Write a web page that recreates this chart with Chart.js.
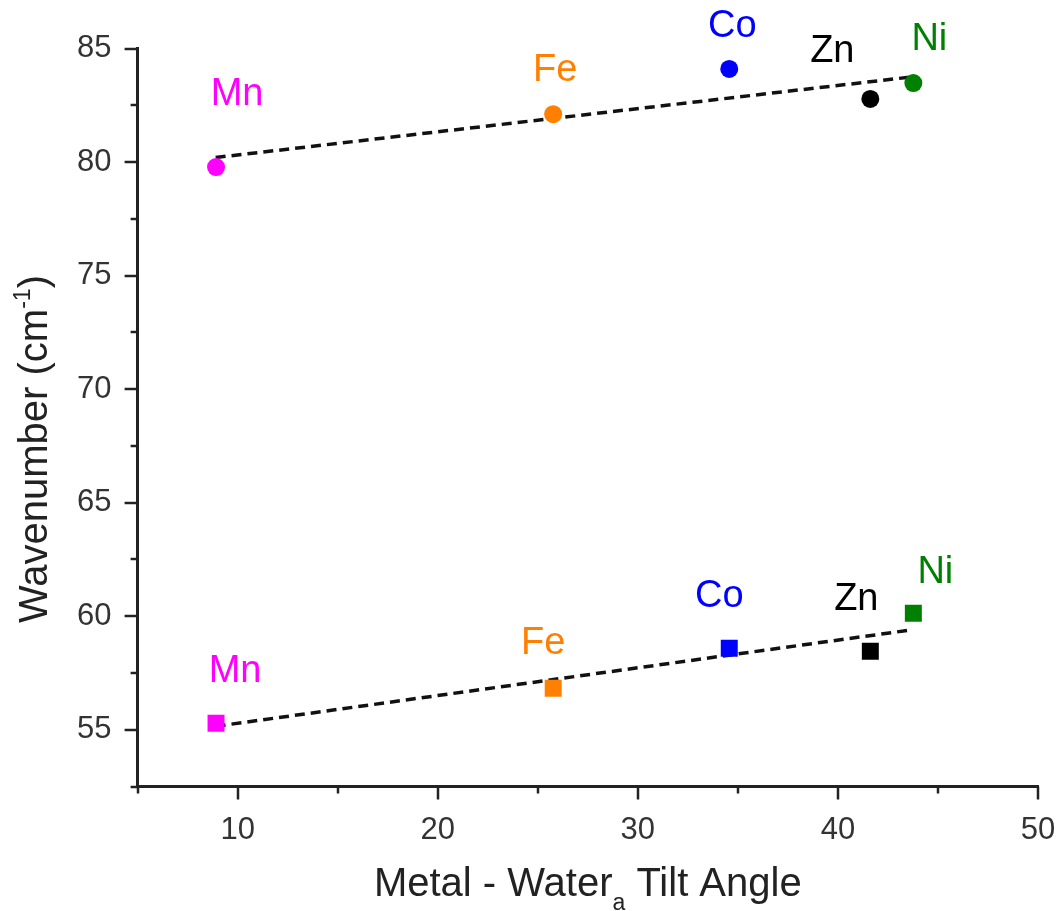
<!DOCTYPE html>
<html>
<head>
<meta charset="utf-8">
<script src="https://cdn.jsdelivr.net/npm/chart.js@4/dist/chart.umd.min.js"></script>
<style>
  html, body { margin: 0; padding: 0; background: #ffffff; }
  #wrap { width: 1061px; height: 911px; }
</style>
</head>
<body>
<div id="wrap"><canvas id="c" width="1061" height="911"></canvas></div>
<script>
// ---- data ----
const metals = ['Mn', 'Fe', 'Co', 'Zn', 'Ni'];
const tiltAngle = [8.92, 25.77, 34.57, 41.62, 43.77];
const upperWavenumber = [79.78, 82.11, 84.10, 82.78, 83.48];
const lowerWavenumber = [55.29, 56.83, 58.59, 58.46, 60.13];
const upperFitX = [8.9, 43.7];
const upperFitY = [80.2, 83.75];
const lowerFitX = [8.9, 43.7];
const lowerFitY = [55.15, 59.4];
const xTickValues = [10, 20, 30, 40, 50];
const yTickValues = [55, 60, 65, 70, 75, 80, 85];
const xTitleMain = 'Metal - Water';
const xTitleSub = 'a';
const xTitleEnd = ' Tilt Angle';
const yTitleMain = 'Wavenumber (cm';
const yTitleSup = '-1';
const yTitleEnd = ')';

// ---- styles ----
const FONT = '"Liberation Sans", Arial, Helvetica, sans-serif';
const metalColors = { Mn: '#ff00ff', Fe: '#ff8000', Co: '#0000ff', Zn: '#000000', Ni: '#008000' };
const pointColors = metals.map(m => metalColors[m]);
// label offsets in pixels relative to each marker (upper row, lower row)
const upperLabelOffsets = [[21, -73], [2, -44], [3, -42], [-38, -47], [16, -44]];
const lowerLabelOffsets = [[19, -52], [-10, -45], [-10, -52], [-14, -52], [22, -41]];
const AXIS_COLOR = '#222222';

const toPts = (xs, ys) => xs.map((x, i) => ({ x: x, y: ys[i] }));

const tickPlugin = {
  id: 'customTicks',
  afterDraw(chart) {
    const ctx = chart.ctx;
    const xs = chart.scales.x, ys = chart.scales.y;
    const area = chart.chartArea;
    ctx.save();
    ctx.strokeStyle = AXIS_COLOR;
    ctx.lineWidth = 2.5;
    ctx.lineCap = 'butt';
    for (let v = xs.min; v <= xs.max + 1e-9; v += 5) {
      const major = xTickValues.includes(Math.round(v * 10) / 10);
      const px = Math.round(xs.getPixelForValue(v));
      ctx.beginPath();
      ctx.moveTo(px, area.bottom);
      ctx.lineTo(px, area.bottom + (major ? 13 : 7));
      ctx.stroke();
    }
    for (let v = ys.min; v <= ys.max + 1e-9; v += 2.5) {
      const major = yTickValues.includes(Math.round(v * 10) / 10);
      const py = Math.round(ys.getPixelForValue(v));
      ctx.beginPath();
      ctx.moveTo(area.left, py);
      ctx.lineTo(area.left - (major ? 13 : 7), py);
      ctx.stroke();
    }
    ctx.restore();
  }
};

const labelPlugin = {
  id: 'pointLabels',
  afterDatasetsDraw(chart) {
    const ctx = chart.ctx;
    const xs = chart.scales.x, ys = chart.scales.y;
    ctx.save();
    ctx.font = '38px ' + FONT;
    ctx.textAlign = 'center';
    ctx.textBaseline = 'middle';
    const rows = [[upperWavenumber, upperLabelOffsets], [lowerWavenumber, lowerLabelOffsets]];
    rows.forEach(([vals, offs]) => {
      metals.forEach((m, i) => {
        const px = xs.getPixelForValue(tiltAngle[i]);
        const py = ys.getPixelForValue(vals[i]);
        ctx.fillStyle = metalColors[m];
        ctx.fillText(m, px + offs[i][0], py + offs[i][1]);
      });
    });
    ctx.restore();
  }
};

const titlePlugin = {
  id: 'axisTitles',
  afterDraw(chart) {
    const ctx = chart.ctx;
    const area = chart.chartArea;
    ctx.save();
    ctx.fillStyle = '#222222';
    ctx.textBaseline = 'alphabetic';
    ctx.textAlign = 'left';
    const bigFont = '40px ' + FONT;
    const smallFont = '23px ' + FONT;
    // x title
    ctx.font = bigFont;
    const w1 = ctx.measureText(xTitleMain).width;
    const w3 = ctx.measureText(xTitleEnd).width;
    ctx.font = smallFont;
    const w2 = ctx.measureText(xTitleSub).width;
    const total = w1 + w2 + w3;
    const x0 = (area.left + area.right) / 2 - total / 2;
    const base = 896;
    ctx.font = bigFont;
    ctx.fillText(xTitleMain, x0, base);
    ctx.font = smallFont;
    ctx.fillText(xTitleSub, x0 + w1, base + 14);
    ctx.font = bigFont;
    ctx.fillText(xTitleEnd, x0 + w1 + w2, base);

    // y title (rotated)
    ctx.font = bigFont;
    const v1 = ctx.measureText(yTitleMain).width;
    const v3 = ctx.measureText(yTitleEnd).width;
    ctx.font = smallFont;
    const v2 = ctx.measureText(yTitleSup).width;
    const vt = v1 + v2 + v3;
    const cy = 449;
    ctx.translate(47, cy);
    ctx.rotate(-Math.PI / 2);
    const s = -vt / 2;
    ctx.font = bigFont;
    ctx.fillText(yTitleMain, s, 0);
    ctx.font = smallFont;
    ctx.fillText(yTitleSup, s + v1, -17);
    ctx.font = bigFont;
    ctx.fillText(yTitleEnd, s + v1 + v2, 0);
    ctx.restore();
  }
};

new Chart(document.getElementById('c'), {
  type: 'scatter',
  data: {
    datasets: [
      {
        label: 'upper',
        data: toPts(tiltAngle, upperWavenumber),
        pointStyle: 'circle',
        pointRadius: 9,
        pointHoverRadius: 9,
        pointBackgroundColor: pointColors,
        pointBorderColor: pointColors,
        pointBorderWidth: 0,
        showLine: false
      },
      {
        label: 'lower',
        data: toPts(tiltAngle, lowerWavenumber),
        pointStyle: 'rect',
        pointRadius: 12,
        pointHoverRadius: 12,
        pointBackgroundColor: pointColors,
        pointBorderColor: pointColors,
        pointBorderWidth: 0,
        showLine: false
      },
      {
        label: 'upper fit',
        type: 'line',
        data: toPts(upperFitX, upperFitY),
        borderColor: '#111111',
        borderWidth: 3.5,
        borderDash: [10, 6],
        pointRadius: 0,
        fill: false,
        tension: 0
      },
      {
        label: 'lower fit',
        type: 'line',
        data: toPts(lowerFitX, lowerFitY),
        borderColor: '#111111',
        borderWidth: 3.5,
        borderDash: [10, 6],
        pointRadius: 0,
        fill: false,
        tension: 0
      }
    ]
  },
  options: {
    responsive: false,
    animation: false,
    devicePixelRatio: 1,
    layout: { padding: { top: 48.5, right: 23, left: 0, bottom: 0 } },
    plugins: {
      legend: { display: false },
      tooltip: { enabled: false },
      title: { display: false }
    },
    scales: {
      x: {
        type: 'linear',
        min: 5,
        max: 50,
        afterBuildTicks: (scale) => { scale.ticks = xTickValues.map(v => ({ value: v })); },
        afterFit: (scale) => {
          scale.height = 911 - 786.5;
          scale.paddingLeft = 0;
          scale.paddingRight = 0;
        },
        ticks: {
          font: { family: FONT, size: 31 },
          color: '#333333',
          padding: 12,
          maxRotation: 0
        },
        grid: { drawOnChartArea: false, color: 'rgba(0,0,0,0)', tickLength: 13 },
        border: { display: true, color: AXIS_COLOR, width: 3 },
        title: { display: false }
      },
      y: {
        type: 'linear',
        min: 52.5,
        max: 85,
        afterBuildTicks: (scale) => { scale.ticks = yTickValues.map(v => ({ value: v })); },
        afterFit: (scale) => {
          scale.width = 137.6;
          scale.paddingTop = 0;
          scale.paddingBottom = 0;
        },
        ticks: {
          font: { family: FONT, size: 31 },
          color: '#333333',
          padding: 13
        },
        grid: { drawOnChartArea: false, color: 'rgba(0,0,0,0)', tickLength: 13 },
        border: { display: true, color: AXIS_COLOR, width: 3 },
        title: { display: false }
      }
    }
  },
  plugins: [tickPlugin, labelPlugin, titlePlugin]
});
</script>
</body>
</html>
